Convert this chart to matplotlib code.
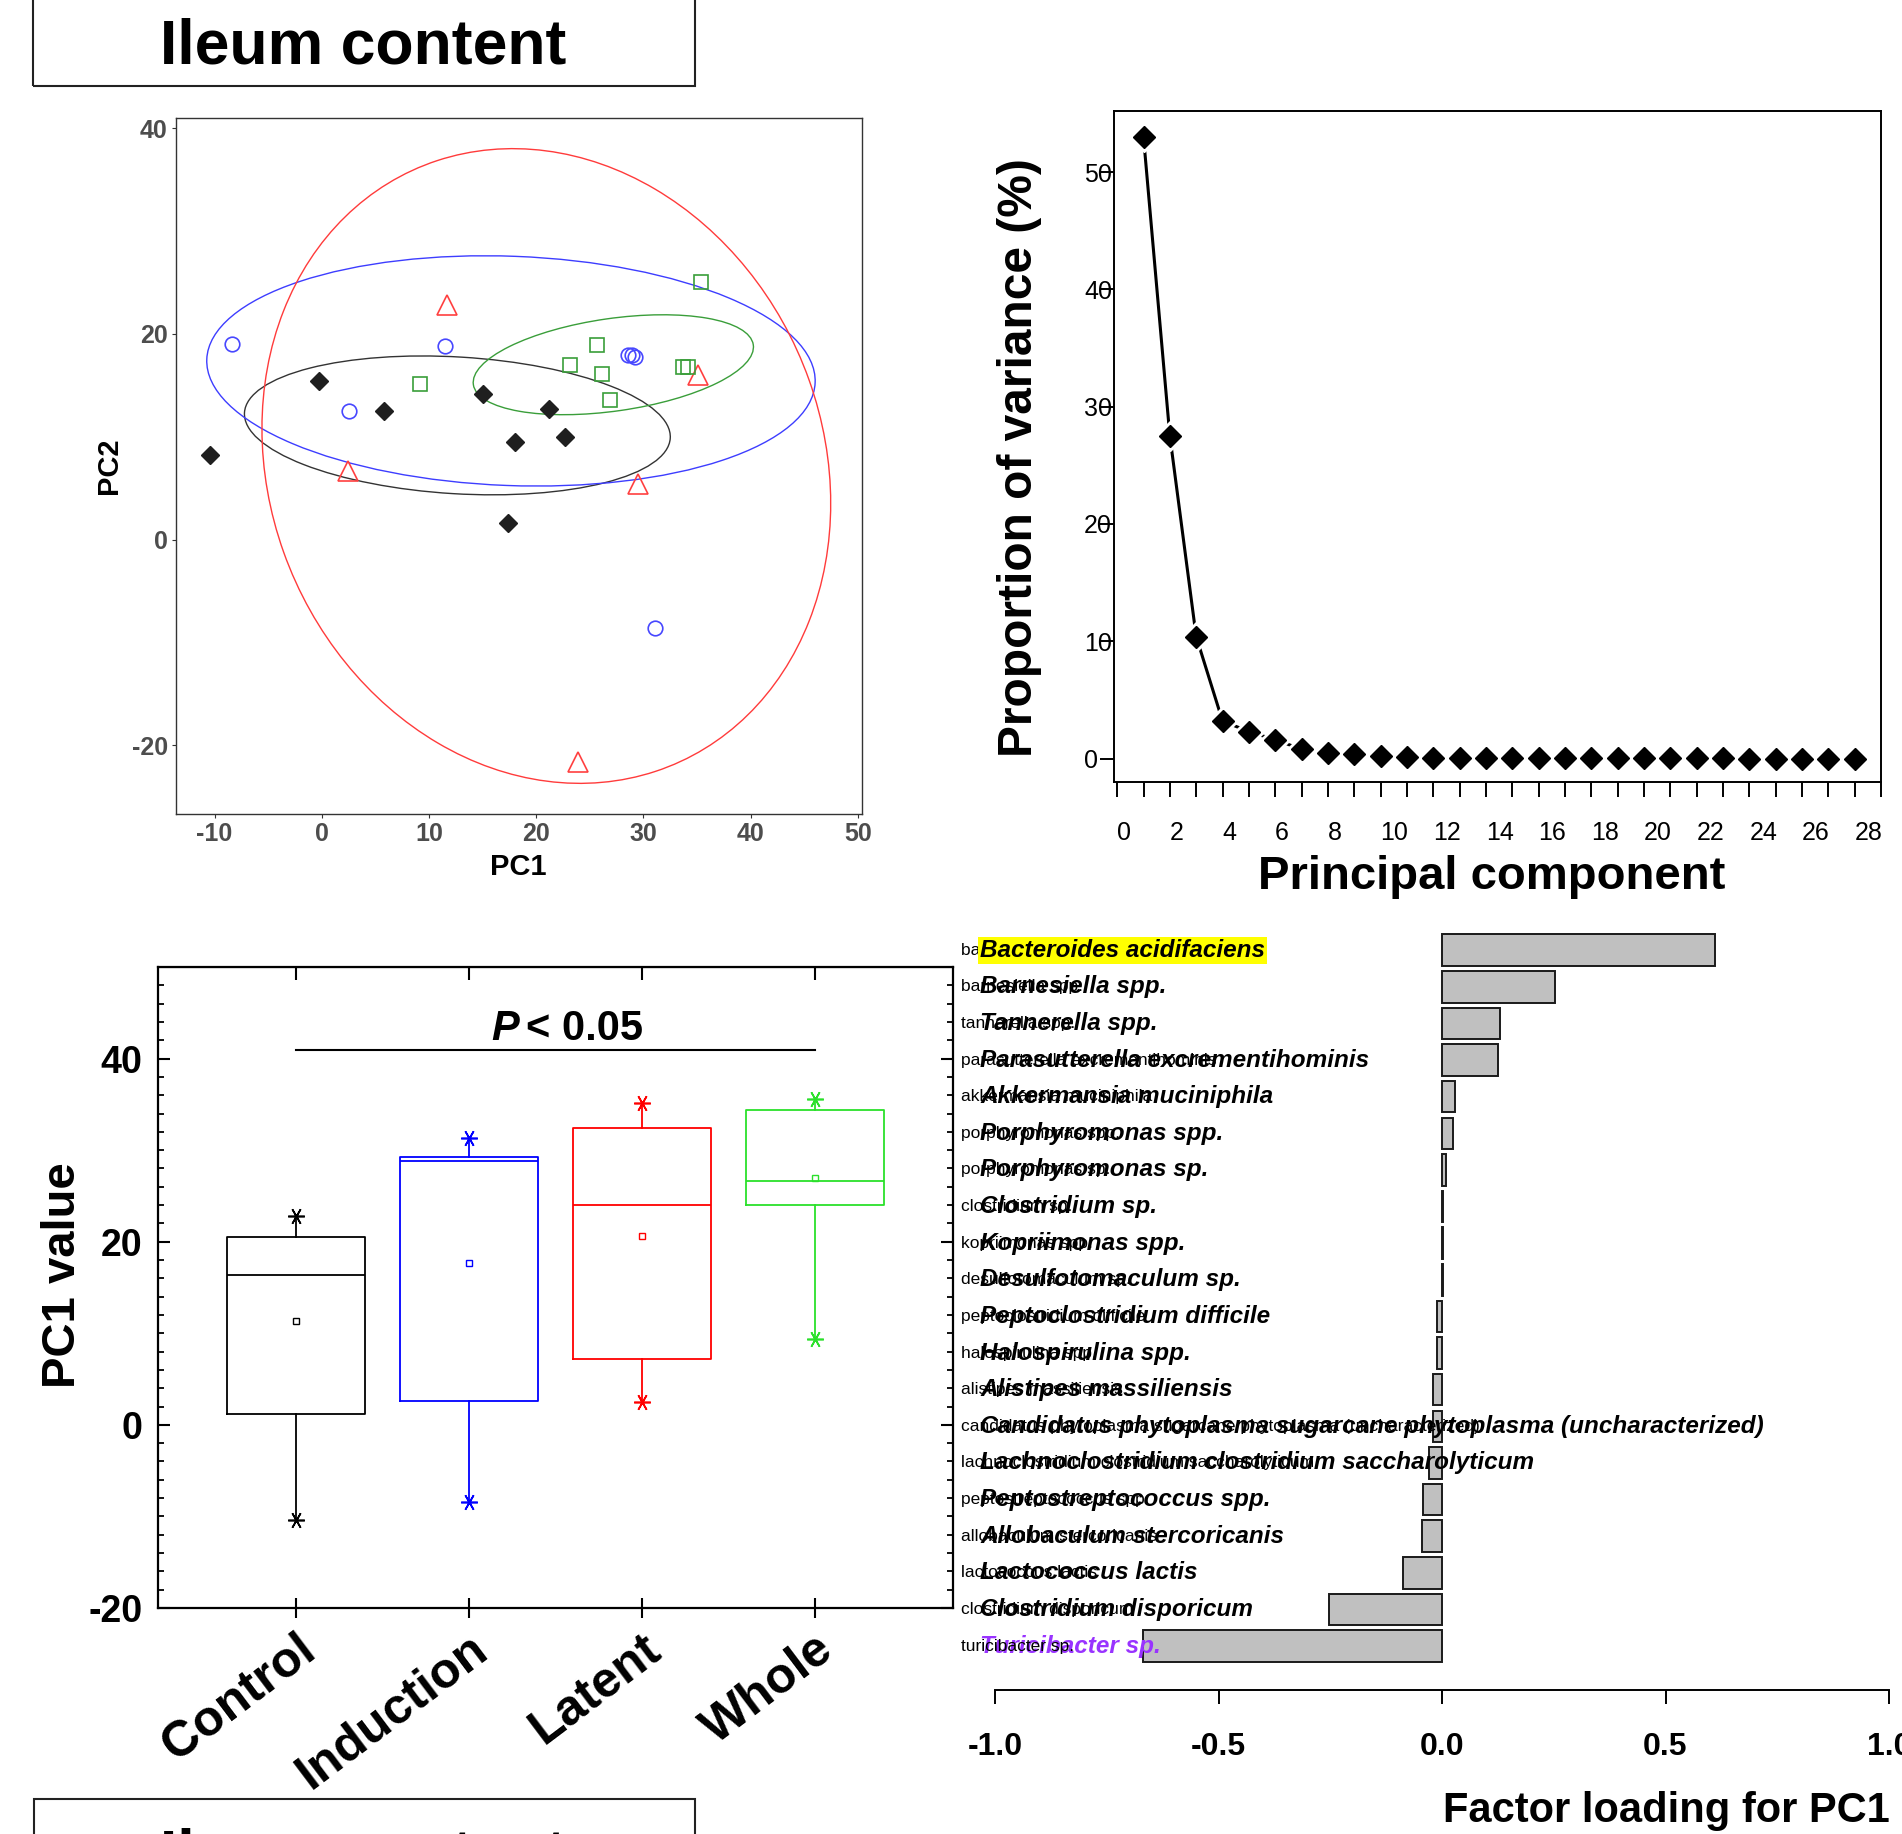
import matplotlib
matplotlib.use('Agg')
import numpy as np
import matplotlib.pyplot as plt
from matplotlib.patches import Ellipse, Rectangle
from matplotlib.ticker import MultipleLocator
from matplotlib.transforms import blended_transform_factory

plt.rcParams['font.family'] = ['Liberation Sans', 'DejaVu Sans']
plt.rcParams['axes.unicode_minus'] = False

# ---------------- data ----------------
groups = ['Control', 'Induction', 'Latent', 'Whole']

# PCA scores (panel A)
control_pc1 = [-10.4, -0.3, 5.8, 15.0, 18.0, 21.2, 22.7, 17.4]
control_pc2 = [8.2, 15.4, 12.5, 14.2, 9.5, 12.7, 10.0, 1.6]
induction_pc1 = [-8.4, 2.5, 11.5, 28.6, 28.9, 29.2, 31.1]
induction_pc2 = [19.0, 12.5, 18.8, 17.9, 17.9, 17.8, -8.6]
latent_pc1 = [11.7, 2.4, 29.5, 35.1, 23.9]
latent_pc2 = [22.8, 6.7, 5.4, 16.0, -21.6]
whole_pc1 = [9.2, 23.2, 25.7, 26.1, 26.9, 33.7, 34.2, 35.4]
whole_pc2 = [15.1, 17.0, 18.9, 16.1, 13.6, 16.8, 16.8, 25.0]

# group ellipses: centre, semi-axes, rotation (deg)
ell_cx = [12.65, 17.65, 20.95, 27.2]
ell_cy = [11.1, 16.4, 7.15, 17.0]
ell_a = [19.9, 28.4, 25.9, 13.2]
ell_b = [6.65, 11.15, 31.4, 4.5]
ell_ang = [-3.6, -2.3, 18.9, 8.5]

# scree (panel B)
pc_num = list(range(1, 29))
var_prop = [53.0, 27.5, 10.4, 3.2, 2.3, 1.6, 0.8, 0.45, 0.36, 0.23,
            0.1, 0.08, 0.06, 0.05, 0.04, 0.03, 0.02, 0.02, 0.02, 0.01,
            0.01, 0.01, 0.01, 0.0, 0.0, 0.0, 0.0, 0.0]

# PC1 box plot (panel C)
box_q1 = [1.2, 2.6, 7.2, 24.0]
box_med = [16.35, 28.8, 24.0, 26.6]
box_q3 = [20.5, 29.3, 32.4, 34.4]
box_mean = [11.3, 17.7, 20.6, 27.0]
box_lo = [-10.4, -8.4, 2.5, 9.35]
box_hi = [22.8, 31.3, 35.2, 35.6]

# loadings (panel D)
taxa = ['Bacteroides acidifaciens', 'Barnesiella spp.', 'Tannerella spp.',
        'Parasutterella excrementihominis', 'Akkermansia muciniphila',
        'Porphyromonas spp.', 'Porphyromonas sp.', 'Clostridium sp.',
        'Kopriimonas spp.', 'Desulfotomaculum sp.', 'Peptoclostridium difficile',
        'Halospirulina spp.', 'Alistipes massiliensis',
        'Candidatus phytoplasma sugarcane phytoplasma (uncharacterized)',
        'Lachnoclostridium clostridium saccharolyticum', 'Peptostreptococcus spp.',
        'Allobaculum stercoricanis', 'Lactococcus lactis', 'Clostridium disporicum',
        'Turicibacter sp.']
taxa_raw = [t.lower() for t in taxa]
loadings = [0.611, 0.252, 0.129, 0.125, 0.028, 0.024, 0.0095, 0.002, 0.0015, 0.0015,
            -0.012, -0.012, -0.020, -0.021, -0.029, -0.042, -0.045, -0.087, -0.252, -0.670]

# ---------------- figure ----------------
W, H = 1902, 1834
fig = plt.figure(figsize=(W / 100, H / 100), dpi=100)


def fx(x):
    return x / W


def fy(y):
    return 1 - y / H


def box(l, t, r, b):
    return [fx(l), fy(b), (r - l) / W, (b - t) / H]


# title boxes
fig.add_artist(Rectangle((fx(33), fy(86)), (695 - 33) / W, 100 / H, fill=False,
                         lw=1.5, ec='#222222', transform=fig.transFigure))
fig.text(fx(363), fy(64), 'Ileum content', ha='center', va='baseline',
         fontsize=45, fontweight='bold')
fig.add_artist(Rectangle((fx(34), fy(1900)), (695 - 34) / W, 101 / H, fill=False,
                         lw=1.5, ec='#222222', transform=fig.transFigure))
fig.text(fx(363), fy(1874), 'Ileum content', ha='center', va='baseline',
         fontsize=45, fontweight='bold')

# ---- panel A: PCA scatter
axA = fig.add_axes(box(176, 118, 862, 814))
ell_cols = ['#333333', '#3d3dff', '#ff3b3b', '#3a9e3a']
axA.plot(control_pc1, control_pc2, ls='none', marker='D', ms=9.5, color='#1f1f1f')
axA.plot(induction_pc1, induction_pc2, ls='none', marker='o', ms=10.5, mfc='none',
         mec='#4747ff', mew=1.2)
axA.plot(latent_pc1, latent_pc2, ls='none', marker='^', ms=14, mfc='none',
         mec='#ff4040', mew=1.2)
axA.plot(whole_pc1, whole_pc2, ls='none', marker='s', ms=10.5, mfc='none',
         mec='#3a9e3a', mew=1.2)
for cx, cy, a, b, ang, c in zip(ell_cx, ell_cy, ell_a, ell_b, ell_ang, ell_cols):
    axA.add_patch(Ellipse((cx, cy), 2 * a, 2 * b, angle=ang, fill=False, ec=c, lw=1.0))
axA.set_xlim(-13.6, 50.4)
axA.set_ylim(-26.7, 41.0)
axA.set_xticks([-10, 0, 10, 20, 30, 40, 50])
axA.set_yticks([-20, 0, 20, 40])
for s in axA.spines.values():
    s.set_color('#333333')
    s.set_linewidth(1.0)
axA.tick_params(colors='#333333', length=3, width=0.8, labelsize=18, pad=3,
                labelcolor='#4d4d4d')
for lab in axA.get_xticklabels() + axA.get_yticklabels():
    lab.set_fontweight('bold')
fig.text(fx(518), fy(867), 'PC1', ha='center', va='center', fontsize=21, fontweight='bold')
fig.text(fx(109), fy(466), 'PC2', ha='center', va='center', rotation=90,
         fontsize=21, fontweight='bold')

# ---- panel B: scree plot
axB = fig.add_axes(box(1114, 111, 1881, 782))
axB.plot(pc_num, var_prop, color='black', lw=2.2, zorder=2)
axB.plot(pc_num, var_prop, ls='none', marker='D', ms=15, color='white', zorder=3)
axB.plot(pc_num, var_prop, ls='none', marker='D', ms=11, color='black', zorder=4)
axB.set_xlim(-0.12, 29.0)
axB.set_ylim(-2.0, 55.2)
axB.set_xticks(range(0, 29, 2))
axB.xaxis.set_minor_locator(MultipleLocator(1))
axB.set_yticks([0, 10, 20, 30, 40, 50])
for s in axB.spines.values():
    s.set_linewidth(1.4)
axB.tick_params(axis='x', which='both', direction='out', length=11, width=1.4,
                labelsize=18, pad=17)
axB.tick_params(axis='y', direction='out', length=10, width=1.4, labelsize=18, pad=11.5)
for lab in axB.get_xticklabels() + axB.get_yticklabels():
    lab.set_horizontalalignment('left')
fig.text(fx(1492), fy(877), 'Principal component', ha='center', va='center',
         fontsize=34, fontweight='bold')
fig.text(fx(1019), fy(458), 'Proportion of variance (%)', ha='center', va='center',
         rotation=90, fontsize=34.5, fontweight='bold')

# ---- panel C: PC1 box plot
axC = fig.add_axes(box(158, 967, 953, 1608))
box_cols = ['black', '#0000ff', '#ff0000', '#2be02b']
positions = [1, 2, 3, 4]
stats = [dict(q1=q1, med=md, q3=q3, whislo=lo, whishi=hi, mean=mn, fliers=[])
         for q1, md, q3, lo, hi, mn in zip(box_q1, box_med, box_q3, box_lo, box_hi, box_mean)]
bp = axC.bxp(stats, positions=positions, widths=0.8, showmeans=True, showcaps=False,
             showfliers=False)
for i, c in enumerate(box_cols):
    bp['boxes'][i].set(color=c, lw=1.3)
    bp['medians'][i].set(color=c, lw=1.3)
    bp['whiskers'][2 * i].set(color=c, lw=1.3)
    bp['whiskers'][2 * i + 1].set(color=c, lw=1.3)
    bp['means'][i].set(marker='s', ms=5, mfc='none', mec=c, mew=1.0)
    axC.plot([positions[i]] * 2, [box_lo[i], box_hi[i]], ls='none', marker=(6, 2, 90),
             ms=12, mec=c, mew=1.2)
axC.plot([1, 4], [40.9, 40.9], color='black', lw=1.5)
axC.text(2.29, 42.0, 'P', ha='right', va='baseline', fontsize=30, fontweight='bold',
         style='italic')
axC.text(2.33, 42.0, '< 0.05', ha='left', va='baseline', fontsize=30, fontweight='bold')
axC.set_xlim(0.2, 4.8)
axC.set_ylim(-20, 50)
axC.set_xticks(positions)
axC.set_xticklabels(groups, rotation=37, ha='right', va='top', rotation_mode='anchor',
                    fontsize=36, fontweight='bold')
axC.set_yticks([-20, 0, 20, 40])
axC.yaxis.set_minor_locator(MultipleLocator(2))
for s in axC.spines.values():
    s.set_linewidth(1.6)
axC.tick_params(axis='y', which='major', direction='in', length=8.6, width=1.5,
                left=True, right=True, labelsize=27, pad=11)
axC.tick_params(axis='y', which='minor', direction='in', length=4.3, width=1.3,
                left=True, right=True)
axC.tick_params(axis='x', direction='inout', length=14, width=1.5, pad=6)
for lab in axC.get_yticklabels():
    lab.set_fontweight('bold')
secC = axC.secondary_xaxis('top')
secC.set_xticks(positions)
secC.tick_params(direction='in', length=9, width=1.5, labeltop=False)
fig.text(fx(63), fy(1275), 'PC1 value', ha='center', va='center', rotation=90,
         fontsize=34, fontweight='bold')

# ---- panel D: PC1 loadings
axD = fig.add_axes(box(995, 930, 1889, 1690))
ypos = np.arange(len(taxa))
axD.barh(ypos, loadings, height=0.86, color='#c0c0c0', edgecolor='#1a1a1a', lw=1.4)
axD.set_xlim(-1, 1)
axD.set_ylim(20.2, -0.55)
for side in ['left', 'right', 'top']:
    axD.spines[side].set_visible(False)
axD.spines['bottom'].set_linewidth(1.4)
axD.spines['bottom'].set_bounds(-1, 1)
axD.set_yticks([])
axD.set_xticks([-1.0, -0.5, 0.0, 0.5, 1.0])
axD.set_xticklabels(['-1.0', '-0.5', '0.0', '0.5', '1.0'], fontsize=23, fontweight='bold')
axD.tick_params(axis='x', direction='out', length=10, width=1.4, pad=20)
trans = blended_transform_factory(fig.transFigure, axD.transData)
last = len(taxa) - 1
for i, (raw, name) in enumerate(zip(taxa_raw, taxa)):
    axD.text(fx(961), i, raw, transform=trans, ha='left', va='center', fontsize=12.5,
             zorder=6 if i == last else 4)
    kw = dict(transform=trans, ha='left', va='center', fontsize=17.5,
              fontweight='bold', style='italic', zorder=5)
    if i == 0:
        kw['bbox'] = dict(boxstyle='square,pad=0.08', fc='#ffff00', ec='none')
    if i == last:
        kw['color'] = '#9933ff'
    axD.text(fx(980), i, name, **kw)
fig.text(fx(1443), fy(1811), 'Factor loading for PC1', ha='left', va='center',
         fontsize=30, fontweight='bold')

fig.savefig('out.png', dpi=100)
